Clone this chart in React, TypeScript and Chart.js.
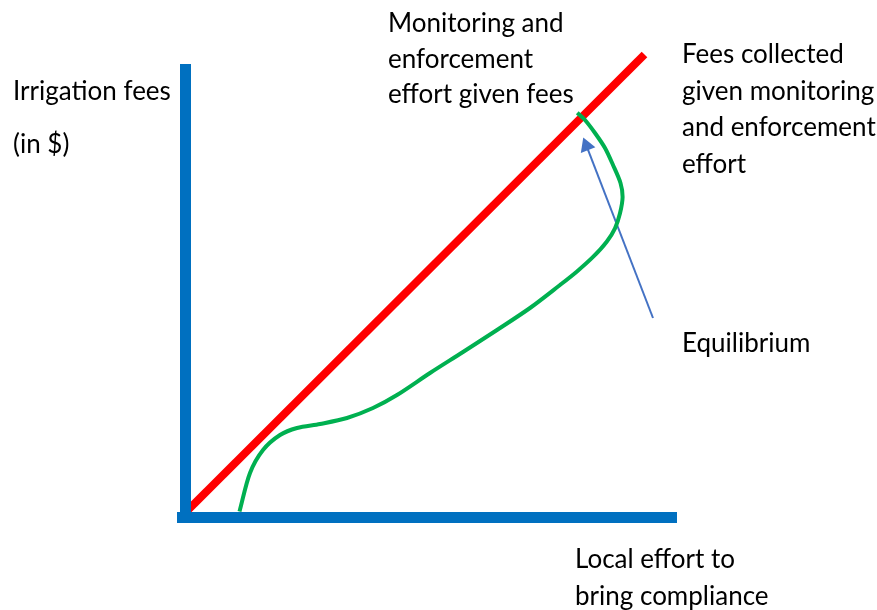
import React, { useEffect, useRef } from "react";
import { Chart, registerables } from "chart.js";

Chart.register(...registerables);

// ---- data (effort on x, fees on y; origin at the axes corner) ----
const redLineX = [1.5, 459];
const redLineY = [6.5, 463];

const greenX = [54, 64.5, 77.5, 94.5, 111.5, 134.5, 161.5, 187.5, 211.5, 244.5, 277.5, 311.5, 344.5, 374.5, 391.2, 407.8, 421.2, 429.5, 434.5, 437.1, 435, 427.5, 419.5, 409.5, 399.5, 391.8];
const greenY = [6, 44.5, 67.5, 82.5, 89.5, 93.5, 99.5, 109.5, 122.5, 144.5, 165.5, 187.5, 209.5, 232.5, 245.8, 260.8, 275.8, 289.2, 304.2, 320.5, 334.5, 352.5, 369.5, 384.5, 397.5, 404.8];

const arrowX = [467.5, 401];
const arrowY = [199.5, 371.6];

const yAxisLineX = [0, 0];
const yAxisLineY = [-5.5, 453.5];
const xAxisLineX = [-8.5, 491.5];
const xAxisLineY = [0, 0];

const yAxisLabel = ["Irrigation fees", "(in $)"];
const redLabel = ["Monitoring and", "enforcement", "effort given fees"];
const greenLabel = ["Fees collected", "given monitoring", "and enforcement", "effort"];
const arrowLabel = ["Equilibrium"];
const xAxisLabel = ["Local effort to", "bring compliance"];

// ---- layout ----
const W = 877;
const H = 610;
const OX = 185.5;
const OY = 517.5;

const labelBlocks = [
  { lines: yAxisLabel, x: 13, y: 100, gap: 53 },
  { lines: redLabel, x: 388, y: 32, gap: 35.5 },
  { lines: greenLabel, x: 682, y: 63, gap: 36.5 },
  { lines: arrowLabel, x: 682, y: 352, gap: 36 },
  { lines: xAxisLabel, x: 575, y: 568, gap: 37 },
];

const zip = (xs: number[], ys: number[]) => xs.map((x, i) => ({ x, y: ys[i] }));

const textPlugin = {
  id: "schemaText",
  afterDatasetsDraw(chart: any) {
    const ctx = chart.ctx;
    const xs = chart.scales.x;
    const ys = chart.scales.y;
    ctx.save();
    ctx.fillStyle = "#000000";
    ctx.font = "26px Lato";
    ctx.textAlign = "left";
    ctx.textBaseline = "alphabetic";
    for (const b of labelBlocks) {
      b.lines.forEach((t, i) => {
        const px = xs.getPixelForValue(b.x - OX);
        const py = ys.getPixelForValue(OY - (b.y + i * b.gap));
        ctx.fillText(t, px, py);
      });
    }
    ctx.restore();
  },
};

export default function App() {
  const ref = useRef<HTMLCanvasElement | null>(null);

  useEffect(() => {
    if (!ref.current) return;
    const line = (data: any[], color: string, width: number, extra: any = {}) => ({
      type: "line",
      data,
      borderColor: color,
      backgroundColor: color,
      borderWidth: width,
      pointRadius: 0,
      pointHoverRadius: 0,
      showLine: true,
      fill: false,
      clip: false,
      borderCapStyle: "butt",
      tension: 0,
      ...extra,
    });
    const chart = new Chart(ref.current, {
      type: "scatter",
      data: {
        datasets: [
          line(zip(yAxisLineX, yAxisLineY), "#0070C0", 11) as any,
          line(zip(xAxisLineX, xAxisLineY), "#0070C0", 11) as any,
          line(zip(greenX, greenY), "#00B050", 4, { tension: 0.3, borderJoinStyle: "round" }) as any,
          line(zip(redLineX, redLineY), "#FF0000", 8) as any,
          line(zip(arrowX, arrowY), "#4472C4", 2, {
            pointRadius: [0, 9],
            pointStyle: "triangle",
            pointRotation: [0, -21.1],
            pointBorderWidth: 0,
            pointBackgroundColor: "#4472C4",
          }) as any,
        ],
      },
      options: {
        responsive: false,
        devicePixelRatio: 1,
        animation: false,
        layout: { padding: 0, autoPadding: false },
        plugins: { legend: { display: false }, tooltip: { enabled: false }, title: { display: false } },
        scales: {
          x: { type: "linear", display: false, min: -OX, max: W - OX },
          y: { type: "linear", display: false, min: OY - H, max: OY },
        },
        events: [],
      },
      plugins: [textPlugin],
    });
    return () => chart.destroy();
  }, []);

  return (
    <canvas
      ref={ref}
      width={W}
      height={H}
      style={{ position: "absolute", left: 0, top: 0, width: W, height: H, background: "#ffffff" }}
    />
  );
}
